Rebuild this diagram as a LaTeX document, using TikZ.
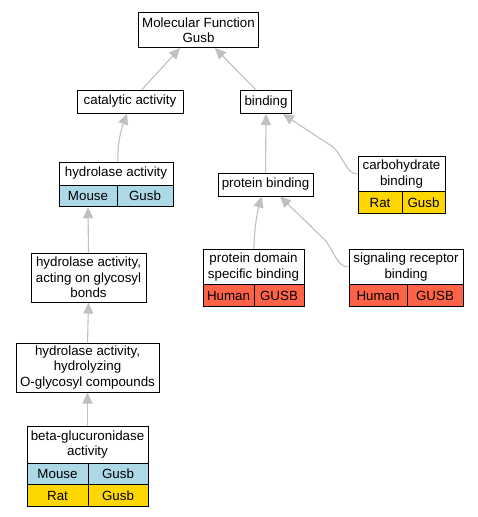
\documentclass[tikz,border=0pt]{standalone}
\usepackage{fontspec}
\setmainfont{Liberation Sans}
\usetikzlibrary{arrows.meta}
\definecolor{edgegray}{RGB}{192,192,192}
\definecolor{mouseblue}{RGB}{173,216,230}
\definecolor{ratgold}{RGB}{255,215,0}
\definecolor{humanred}{RGB}{255,99,71}
\begin{document}
\begin{tikzpicture}[x=1pt,y=-1pt,
  every node/.style={font=\fontsize{13.33}{15.5}\selectfont},
  gobox/.style={draw=black, line width=1pt, fill=white, inner sep=0pt, align=center},
  cell/.style={draw=black, line width=1pt, inner sep=0pt, minimum height=21.5pt},
  mousecell/.style={cell, fill=mouseblue},
  ratcell/.style={cell, fill=ratgold},
  humancell/.style={cell, fill=humanred},
  edge/.style={draw=edgegray, line width=1.1pt, -{Triangle[length=11pt,width=10pt,fill=edgegray]}}
]
\useasboundingbox (0,0) rectangle (477,517);
\fill[white] (0,0) rectangle (477,517);

% nodes
\node[gobox, minimum width=120pt, minimum height=35pt] (mf) at (198.5,30) {Molecular Function\\Gusb};
\node[gobox, minimum width=106pt, minimum height=23pt] (cat) at (130,101.5) {catalytic activity};
\node[gobox, minimum width=51pt, minimum height=23pt] (bind) at (266,102) {binding};

\node[gobox, minimum width=114pt, minimum height=23pt] (hyd) at (116,173.5) {hydrolase activity};
\node[mousecell, minimum width=58pt] (hydm) at (88,196) {Mouse};
\node[mousecell, minimum width=56pt] (hydg) at (145,196) {Gusb};

\node[gobox, minimum width=115pt, minimum height=49pt] (glyc) at (88.5,277.5) {hydrolase activity,\\acting on glycosyl\\bonds};
\node[gobox, minimum width=143pt, minimum height=49pt] (hydz) at (87.5,367.5) {hydrolase activity,\\hydrolyzing\\O-glycosyl compounds};

\node[gobox, minimum width=121pt, minimum height=37pt] (beta) at (87.5,444.5) {beta-glucuronidase\\activity};
\node[mousecell, minimum width=61pt] (betam) at (57.5,474) {Mouse};
\node[mousecell, minimum width=60pt] (betag) at (118,474) {Gusb};
\node[ratcell, minimum width=61pt] (betar) at (57.5,495.5) {Rat};
\node[ratcell, minimum width=60pt] (betarg) at (118,495.5) {Gusb};

\node[gobox, minimum width=95pt, minimum height=23pt] (pbind) at (265.5,184.5) {protein binding};

\node[gobox, minimum width=87pt, minimum height=36pt] (carb) at (401.5,174) {carbohydrate\\binding};
\node[ratcell, minimum width=44pt] (carbr) at (380,202.5) {Rat};
\node[ratcell, minimum width=43pt] (carbg) at (423.5,202.5) {Gusb};

\node[gobox, minimum width=101pt, minimum height=36pt] (pdom) at (253.5,267) {protein domain\\specific binding};
\node[humancell, minimum width=51pt] (pdomh) at (228.5,295.5) {Human};
\node[humancell, minimum width=50pt] (pdomg) at (279,295.5) {GUSB};

\node[gobox, minimum width=114pt, minimum height=36pt] (sig) at (406,267) {signaling receptor\\binding};
\node[humancell, minimum width=58pt] (sigh) at (378,295.5) {Human};
\node[humancell, minimum width=56pt] (sigg) at (435,295.5) {GUSB};

% edges
\draw[edge] ([xshift=12pt]cat.north) -- ([xshift=-18.5pt]mf.south);
\draw[edge] ([xshift=-10pt]bind.north) -- ([xshift=16.5pt]mf.south);
\draw[edge] ([xshift=2pt]hyd.north) .. controls (117,145) and (121,130) .. ([xshift=-3pt]cat.south);
\draw[edge] (glyc.north) -- (hydm.south);
\draw[edge] (hydz.north) -- (glyc.south);
\draw[edge] (beta.north) -- (hydz.south);
\draw[edge] (pbind.north) -- (bind.south);
\draw[edge] (carb.west) .. controls (346,174) and (344,157) .. (333,147) -- ([xshift=17pt]bind.south);
\draw[edge] ([xshift=0.5pt]pdom.north) .. controls (254,232) and (257,213) .. ([xshift=-4pt]pbind.south);
\draw[edge] (sig.west) .. controls (337,267) and (334,251) .. (325,240) -- ([xshift=14.5pt]pbind.south);
\end{tikzpicture}
\end{document}
